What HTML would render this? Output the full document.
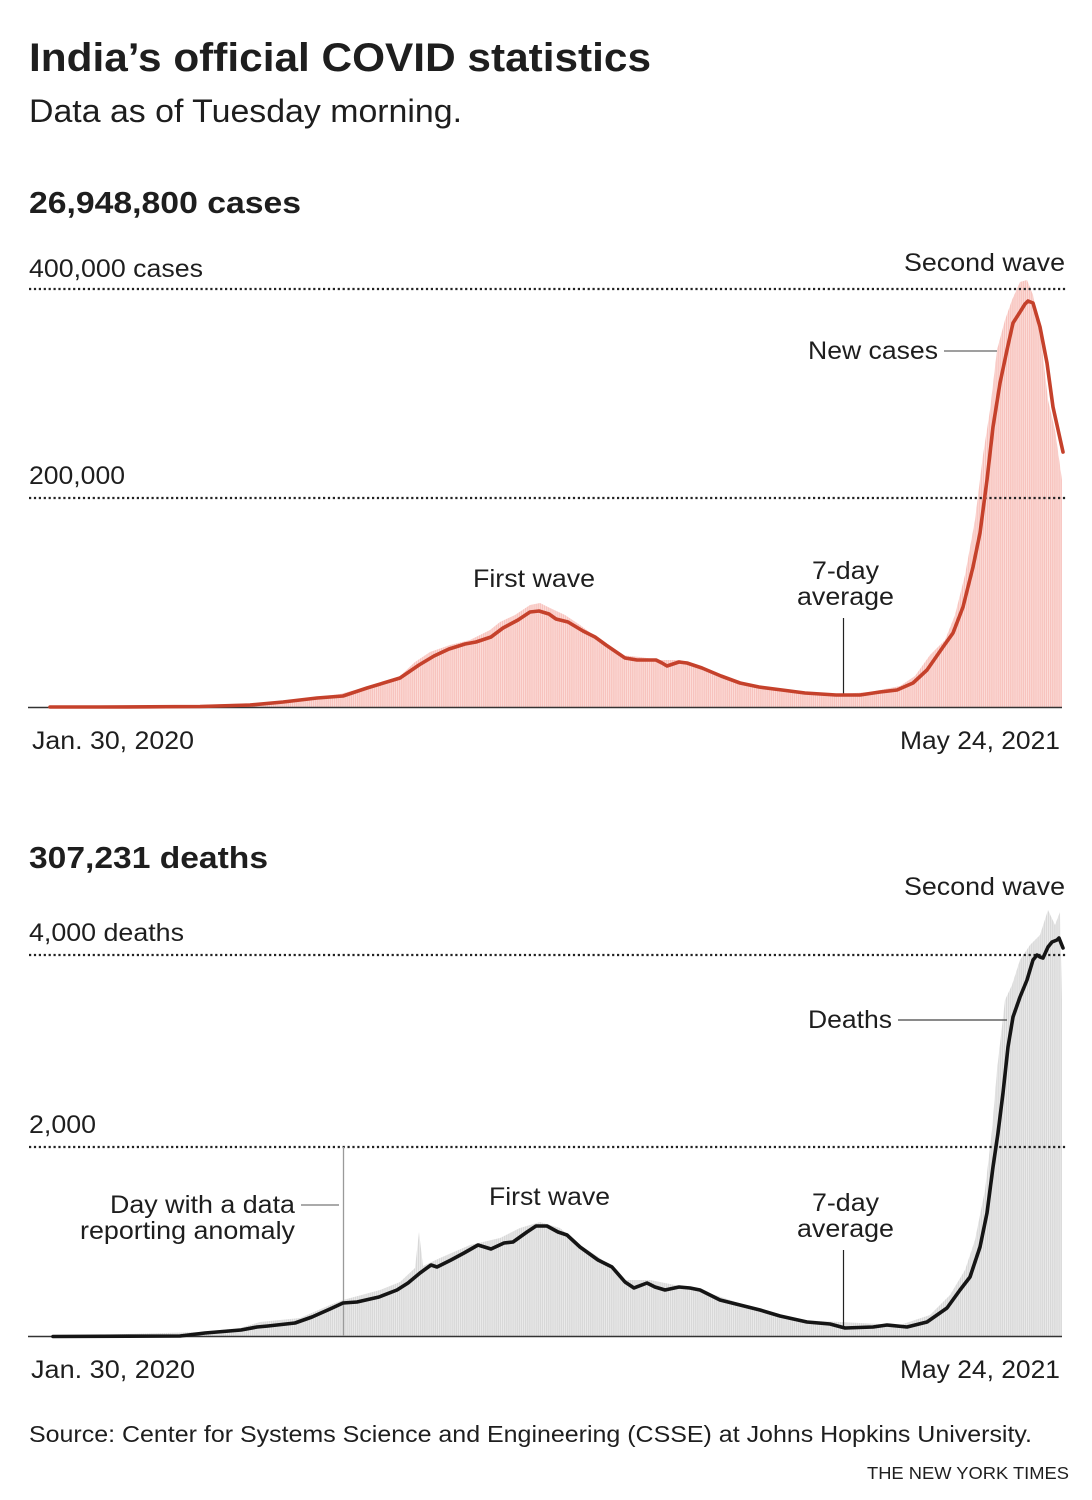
<!DOCTYPE html>
<html>
<head>
<meta charset="utf-8">
<style>
  html,body{margin:0;padding:0;background:#fff;}
  body{width:1092px;height:1500px;overflow:hidden;}
  svg{display:block;}
  text{font-family:"Liberation Sans",Arial,Helvetica,sans-serif;fill:#1e1e1e;}
  .b{font-weight:bold;}
  .l{font-size:25px;}
</style>
</head>
<body>
<svg width="1092" height="1500" viewBox="0 0 1092 1500" xmlns="http://www.w3.org/2000/svg">
  <defs>
    <pattern id="pinkbars" width="2.1" height="20" patternUnits="userSpaceOnUse">
      <rect x="0" y="0" width="2.1" height="20" fill="#fde4e1"/>
      <rect x="0" y="0" width="1.4" height="20" fill="#f7c3be"/>
    </pattern>
    <pattern id="graybars" width="2.1" height="20" patternUnits="userSpaceOnUse">
      <rect x="0" y="0" width="2.1" height="20" fill="#f0f0f0"/>
      <rect x="0" y="0" width="1.4" height="20" fill="#d8d8d8"/>
    </pattern>
  </defs>

  <!-- Header -->
  <text x="29" y="71" class="b" font-size="40" textLength="622" lengthAdjust="spacingAndGlyphs">India’s official COVID statistics</text>
  <text x="29" y="122" font-size="32" textLength="433" lengthAdjust="spacingAndGlyphs">Data as of Tuesday morning.</text>

  <!-- ============ CASES ============ -->
  <text x="29" y="213" class="b" font-size="31" textLength="272" lengthAdjust="spacingAndGlyphs">26,948,800 cases</text>

  <!-- bars -->
  <path fill="url(#pinkbars)" d="M50,707 L200,705 L260,703 L300,699 L340,694 L370,686 L400,676 L415,662 L430,652 L450,645 L470,640 L490,630 L500,622 L515,615 L530,605 L540,603 L550,608 L565,615 L580,625 L600,640 L620,655 L640,657 L660,660 L680,660 L700,667 L720,676 L740,683 L760,687 L800,692 L840,694 L870,692 L900,686 L915,676 L930,655 L945,640 L955,615 L965,575 L975,520 L983,455 L990,410 L997,350 L1005,320 L1012,300 L1020,282 L1027,280 L1033,295 L1040,330 L1048,400 L1055,430 L1062,480 L1062,707 Z"/>

  <!-- gridlines -->
  <line x1="29" y1="289" x2="1066" y2="289" stroke="#222" stroke-width="2.2" stroke-dasharray="2.2 2.7"/>
  <line x1="29" y1="498" x2="1066" y2="498" stroke="#222" stroke-width="2.2" stroke-dasharray="2.2 2.7"/>
  <!-- baseline -->
  <line x1="28" y1="707.5" x2="1062" y2="707.5" stroke="#333" stroke-width="1.5"/>

  <text x="29" y="277" class="l" textLength="174" lengthAdjust="spacingAndGlyphs">400,000 cases</text>
  <text x="29" y="484" class="l" textLength="96" lengthAdjust="spacingAndGlyphs">200,000</text>
  <text x="1065" y="271" class="l" text-anchor="end" textLength="161" lengthAdjust="spacingAndGlyphs">Second wave</text>
  <text x="808" y="359" class="l" textLength="130" lengthAdjust="spacingAndGlyphs">New cases</text>
  <line x1="944" y1="351" x2="997" y2="351" stroke="#666" stroke-width="1.2"/>
  <text x="473" y="587" class="l" textLength="122" lengthAdjust="spacingAndGlyphs">First wave</text>
  <text x="812" y="579" class="l" textLength="67" lengthAdjust="spacingAndGlyphs">7-day</text>
  <text x="797" y="605" class="l" textLength="97" lengthAdjust="spacingAndGlyphs">average</text>
  <line x1="843.5" y1="618" x2="843.5" y2="695" stroke="#222" stroke-width="1.2"/>

  <!-- 7-day avg line -->
  <polyline fill="none" stroke="#c5412b" stroke-width="3.6" stroke-linejoin="round" stroke-linecap="round"
    points="50,707 100,707 150,706.8 200,706.5 250,705 283,702 317,698 343,696 367,688 400,678 419,665 434,656 449,649 465,644 476,642 491,637 503,628 518,620 530,612 539,611 549,614 556,619 568,622 583,631 595,637 606,645 625,658 637,660 656,660 662,663 667,666 673,664 679,662 687,663 702,668 721,676 740,683 759,687 782,690 805,693 836,695 860,695 880,692 897,690 913,683 927,670 943,647 953,633 963,607 973,567 980,533 987,480 993,427 1000,383 1007,350 1013,323 1020,312 1025,304 1028,301 1033,303 1040,327 1047,363 1053,407 1063,452"/>

  <text x="32" y="749" class="l" textLength="162" lengthAdjust="spacingAndGlyphs">Jan. 30, 2020</text>
  <text x="1060" y="749" class="l" text-anchor="end" textLength="160" lengthAdjust="spacingAndGlyphs">May 24, 2021</text>

  <!-- ============ DEATHS ============ -->
  <text x="29" y="868" class="b" font-size="31" textLength="239" lengthAdjust="spacingAndGlyphs">307,231 deaths</text>

  <path fill="url(#graybars)" d="M53,1336 L200,1332 L240,1328 L260,1322 L300,1318 L330,1305 L343,1300 L380,1290 L400,1282 L415,1268 L419,1232 L423,1266 L440,1258 L470,1245 L500,1238 L520,1228 L540,1222 L560,1228 L580,1245 L600,1258 L625,1280 L650,1280 L700,1290 L760,1310 L800,1320 L900,1325 L930,1315 L950,1295 L965,1270 L975,1240 L985,1190 L992,1130 L997,1070 L1005,1000 L1012,985 L1020,960 L1030,945 L1040,935 L1048,910 L1055,925 L1060,912 L1062,1000 L1062,1336 Z"/>

  <line x1="29" y1="955" x2="1066" y2="955" stroke="#222" stroke-width="2.2" stroke-dasharray="2.2 2.7"/>
  <line x1="29" y1="1147" x2="1066" y2="1147" stroke="#222" stroke-width="2.2" stroke-dasharray="2.2 2.7"/>
  <line x1="28" y1="1336.5" x2="1062" y2="1336.5" stroke="#333" stroke-width="1.5"/>

  <!-- anomaly -->
  <line x1="343.5" y1="1147" x2="343.5" y2="1336" stroke="#9a9a9a" stroke-width="1.3"/>
  <line x1="301" y1="1205" x2="339" y2="1205" stroke="#777" stroke-width="1.2"/>
  <text x="295" y="1213" class="l" text-anchor="end" textLength="185" lengthAdjust="spacingAndGlyphs">Day with a data</text>
  <text x="295" y="1239" class="l" text-anchor="end" textLength="215" lengthAdjust="spacingAndGlyphs">reporting anomaly</text>

  <text x="29" y="941" class="l" textLength="155" lengthAdjust="spacingAndGlyphs">4,000 deaths</text>
  <text x="29" y="1133" class="l" textLength="67" lengthAdjust="spacingAndGlyphs">2,000</text>
  <text x="1065" y="895" class="l" text-anchor="end" textLength="161" lengthAdjust="spacingAndGlyphs">Second wave</text>
  <text x="808" y="1028" class="l" textLength="84" lengthAdjust="spacingAndGlyphs">Deaths</text>
  <line x1="898" y1="1020" x2="1007" y2="1020" stroke="#444" stroke-width="1.2"/>
  <text x="489" y="1205" class="l" textLength="121" lengthAdjust="spacingAndGlyphs">First wave</text>
  <text x="812" y="1211" class="l" textLength="67" lengthAdjust="spacingAndGlyphs">7-day</text>
  <text x="797" y="1237" class="l" textLength="97" lengthAdjust="spacingAndGlyphs">average</text>
  <line x1="843.5" y1="1250" x2="843.5" y2="1327" stroke="#222" stroke-width="1.2"/>

  <polyline fill="none" stroke="#151515" stroke-width="3.6" stroke-linejoin="round" stroke-linecap="round"
    points="53,1336.5 180,1336 205,1333 241,1330 257,1327 268,1326 295,1323 312,1317 330,1309 343,1303 357,1302 379,1297 397,1290 408,1283 420,1273 431,1265 437,1267 451,1260 464,1253 478,1245 491,1249 504,1243 513,1242 527,1232 536,1226 547,1226 558,1232 567,1235 580,1247 598,1260 612,1267 625,1282 634,1288 647,1283 655,1287 665,1290 679,1287 690,1288 700,1290 720,1300 740,1305 760,1310 780,1316 807,1322 830,1324 845,1328 873,1327 887,1325 907,1327 927,1322 947,1308 960,1290 970,1277 980,1247 987,1213 993,1167 998,1133 1003,1093 1008,1047 1013,1017 1020,997 1027,980 1033,960 1037,955 1040,957 1043,958 1048,947 1052,942 1057,940 1059,938 1063,948"/>

  <text x="31" y="1378" class="l" textLength="164" lengthAdjust="spacingAndGlyphs">Jan. 30, 2020</text>
  <text x="1060" y="1378" class="l" text-anchor="end" textLength="160" lengthAdjust="spacingAndGlyphs">May 24, 2021</text>

  <!-- Footer -->
  <text x="29" y="1442" font-size="23" textLength="1003" lengthAdjust="spacingAndGlyphs">Source: Center for Systems Science and Engineering (CSSE) at Johns Hopkins University.</text>
  <text x="1069" y="1479" font-size="17.5" text-anchor="end" textLength="202" lengthAdjust="spacingAndGlyphs">THE NEW YORK TIMES</text>
</svg>
</body>
</html>
